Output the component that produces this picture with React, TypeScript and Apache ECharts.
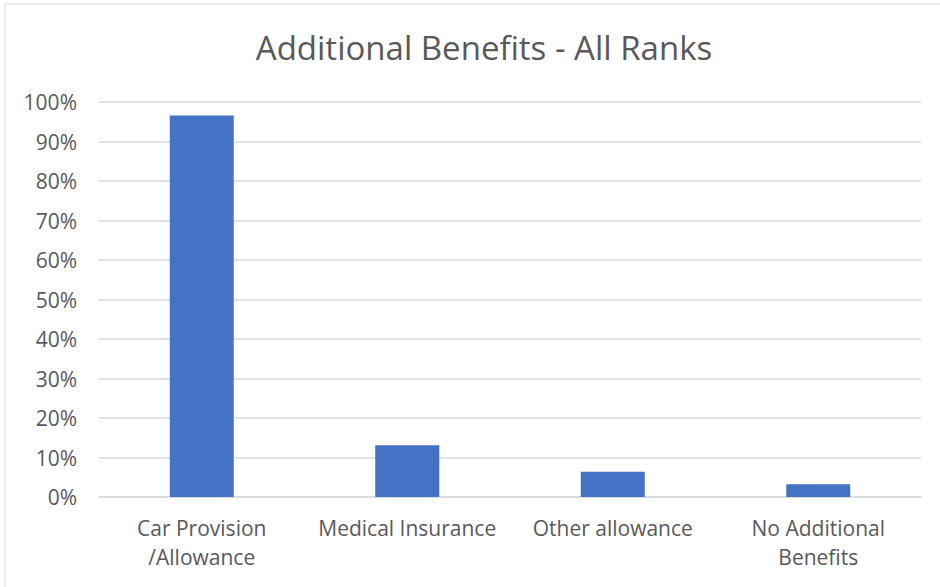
import React, { useEffect, useRef } from "react";
import * as echarts from "echarts";

const titleText = "Additional Benefits - All Ranks";
const categories = ["Car Provision\n/Allowance", "Medical Insurance", "Other allowance", "No Additional\nBenefits"];
const values = [96.6, 13.1, 6.4, 3.2];
const yTicks = { min: 0, max: 100, interval: 10 };

export default function App() {
  const ref = useRef<HTMLDivElement>(null);
  useEffect(() => {
    document.body.style.margin = "0";
    const chart = echarts.init(ref.current!, null, { renderer: "svg" });
    const font = "'Open Sans', sans-serif";
    chart.setOption({
      animation: false,
      backgroundColor: "#ffffff",
      title: {
        text: titleText,
        left: 479,
        textAlign: "center",
        top: 26,
        textStyle: { fontFamily: font, fontSize: 33, fontWeight: "normal", color: "#595959" },
      },
      graphic: [
        { type: "line", shape: { x1: 5, y1: 4, x2: 5, y2: 600 }, style: { stroke: "#d9d9d9", lineWidth: 1 } },
        { type: "line", shape: { x1: 5, y1: 4, x2: 950, y2: 4 }, style: { stroke: "#d9d9d9", lineWidth: 1 } },
      ],
      grid: { left: 99, right: 19, top: 102, bottom: 90 },
      xAxis: {
        type: "category",
        data: categories,
        axisTick: { show: false },
        axisLine: { show: true, lineStyle: { color: "#d9d9d9", width: 1.5 } },
        axisLabel: {
          interval: 0,
          hideOverlap: false,
          fontFamily: font,
          fontSize: 21,
          color: "#595959",
          margin: 16,
          lineHeight: 29,
        },
      },
      yAxis: {
        type: "value",
        min: yTicks.min,
        max: yTicks.max,
        interval: yTicks.interval,
        axisLine: { show: false },
        axisTick: { show: false },
        splitLine: { lineStyle: { color: "#d9d9d9", width: 1.5 } },
        axisLabel: { fontFamily: font, fontSize: 21, color: "#595959", margin: 22, formatter: "{value}%" },
      },
      series: [
        {
          type: "bar",
          data: values,
          barWidth: 64,
          itemStyle: { color: "#4472c4" },
        },
      ],
    });
    return () => chart.dispose();
  }, []);
  return <div ref={ref} style={{ width: 940, height: 587 }} />;
}
